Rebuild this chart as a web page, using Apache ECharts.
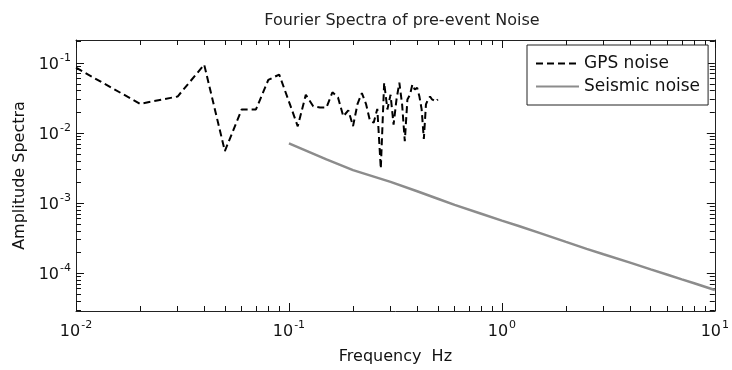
<!DOCTYPE html>
<html>
<head>
<meta charset="utf-8">
<script src="https://cdn.jsdelivr.net/npm/echarts@6/dist/echarts.min.js"></script>
<style>
html,body{margin:0;padding:0;background:#fff;}
#c{width:732px;height:370px;}
</style>
</head>
<body>
<div id="c"></div>
<script>
var titleText = 'Fourier Spectra of pre-event Noise';
var xName = 'Frequency  Hz';
var yName = 'Amplitude Spectra';
var gpsName = 'GPS noise';
var seisName = 'Seismic noise';

var gpsFreq = [0.01,0.02,0.03,0.04,0.05,0.06,0.07,0.08,0.09,0.10,
               0.11,0.12,0.13,0.14,0.15,0.16,0.17,0.18,0.19,0.20,
               0.21,0.22,0.23,0.24,0.25,0.26,0.27,0.28,0.29,0.30,
               0.31,0.32,0.33,0.34,0.35,0.36,0.37,0.38,0.39,0.40,
               0.41,0.42,0.43,0.44,0.45,0.46,0.47,0.48,0.49,0.50];
var gpsAmp = [0.085,0.026,0.033,0.094,0.0055,0.0216,0.0216,0.057,0.068,0.028,
              0.0124,0.035,0.024,0.023,0.023,0.038,0.032,0.0172,0.021,0.0125,
              0.026,0.037,0.026,0.015,0.014,0.022,0.0031,0.052,0.0216,0.035,
              0.0131,0.030,0.052,0.0255,0.0076,0.030,0.035,0.049,0.0415,0.044,
              0.033,0.0216,0.0082,0.0255,0.030,0.033,0.030,0.032,0.028,0.030];

var seisFreq = [0.1,0.15,0.2,0.3,0.4,0.5,0.6,0.8,1.0,1.2,1.5,2,2.5,3,4,5,6,7,8,10];
var seisAmp = [0.0071,0.0042,0.00295,0.0020,0.00147,0.00115,0.00094,0.000703,0.000562,0.000471,
               0.000375,0.000279,0.000222,0.000186,0.000141,0.000113,0.0000948,0.0000815,0.0000716,0.0000575];

// tick values (labels are 10^n)
var xMajorTicks = [0.01, 0.1, 1, 10];
var yMajorTicks = [0.0001, 0.001, 0.01, 0.1];
var minorMultipliers = [2,3,4,5,6,7,8,9];
var xDecades = [0.01, 0.1, 1];
var yDecades = [0.00001, 0.0001, 0.001, 0.01, 0.1];

var xMin = 0.01, xMax = 10;
var yMin = Math.pow(10, -4.54), yMax = Math.pow(10, -0.675);

function pairs(xs, ys){ return xs.map(function(x,i){ return [x, ys[i]]; }); }
function minorList(decs, lo, hi){
  var out = [];
  decs.forEach(function(d){ minorMultipliers.forEach(function(m){
    var v = +(d*m).toPrecision(6); if (v > lo && v < hi) out.push(v); }); });
  return out;
}
var xMinorTicks = minorList(xDecades, xMin, xMax);
var yMinorTicks = minorList(yDecades, yMin, yMax);

function supLabel(v){
  var e = Math.log10(v);
  var r = Math.round(e);
  if (Math.abs(e - r) > 1e-6) return '';
  return '{a|10}{b|' + r + '}';
}
var FONT = 'DejaVu Sans';
var richLab = {
  a: {fontFamily: FONT, fontSize: 16, color: '#111', lineHeight: 20, verticalAlign: 'bottom'},
  b: {fontFamily: FONT, fontSize: 11, color: '#111', lineHeight: 20, verticalAlign: 'top', padding: [0,0,0,1]}
};
var lineCol = '#222';
function logAxis(extra, major, ticks, showLine){
  var base = {
    type: 'log', logBase: 10,
    axisLine: {show: showLine, onZero: false, lineStyle: {color: lineCol, width: 1}},
    axisTick: {show: true, inside: true, length: major ? 8 : 5, customValues: ticks, lineStyle: {color: '#111', width: 1}},
    axisLabel: {show: false},
    splitLine: {show: false}
  };
  for (var k in extra) base[k] = extra[k];
  return base;
}

var chart = echarts.init(document.getElementById('c'), null, {renderer: 'canvas'});
chart.setOption({
  animation: false,
  backgroundColor: '#fff',
  title: {
    text: titleText, left: 397, top: 8, textAlign: 'center',
    textStyle: {fontFamily: FONT, fontSize: 16, fontWeight: 'normal', color: '#222'}
  },
  grid: {left: 76, right: 11, top: 40, bottom: 57, containLabel: false},
  legend: {
    orient: 'vertical', left: 527, top: 45,
    padding: [10, 8, 10, 8], itemGap: 6,
    itemWidth: 43, itemHeight: 14,
    itemStyle: {opacity: 0, borderWidth: 0},
    borderColor: '#222', borderWidth: 1, backgroundColor: '#fff',
    textStyle: {fontFamily: FONT, fontSize: 17, color: '#111'},
    data: [gpsName, seisName]
  },
  xAxis: [
    logAxis({
      position: 'bottom', min: xMin, max: xMax,
      name: xName, nameLocation: 'middle', nameGap: 38,
      nameTextStyle: {fontFamily: FONT, fontSize: 16, color: '#111'},
      axisLabel: {show: true, margin: 9, customValues: xMajorTicks, formatter: supLabel, rich: richLab}
    }, true, xMajorTicks, true),
    logAxis({position: 'bottom', min: xMin, max: xMax}, false, xMinorTicks, false),
    logAxis({position: 'top', min: xMin, max: xMax}, true, xMajorTicks, true),
    logAxis({position: 'top', min: xMin, max: xMax}, false, xMinorTicks, false)
  ],
  yAxis: [
    logAxis({
      position: 'left', min: yMin, max: yMax,
      name: yName, nameLocation: 'middle', nameGap: 46,
      nameTextStyle: {fontFamily: FONT, fontSize: 16, color: '#111'},
      axisLabel: {show: true, margin: 5, customValues: yMajorTicks, formatter: supLabel, rich: richLab}
    }, true, yMajorTicks, true),
    logAxis({position: 'left', min: yMin, max: yMax}, false, yMinorTicks, false),
    logAxis({position: 'right', min: yMin, max: yMax}, true, yMajorTicks, true),
    logAxis({position: 'right', min: yMin, max: yMax}, false, yMinorTicks, false)
  ],
  series: [
    {
      name: gpsName, type: 'line', xAxisIndex: 0, yAxisIndex: 0,
      data: pairs(gpsFreq, gpsAmp), symbol: 'none', showSymbol: false,
      lineStyle: {color: '#000', width: 2, type: [7, 4]},
      itemStyle: {color: '#000'}
    },
    {
      name: seisName, type: 'line', xAxisIndex: 0, yAxisIndex: 0,
      data: pairs(seisFreq, seisAmp), symbol: 'none', showSymbol: false,
      lineStyle: {color: '#8c8c8c', width: 2.5},
      itemStyle: {color: '#8c8c8c'}
    }
  ]
});
</script>
</body>
</html>
